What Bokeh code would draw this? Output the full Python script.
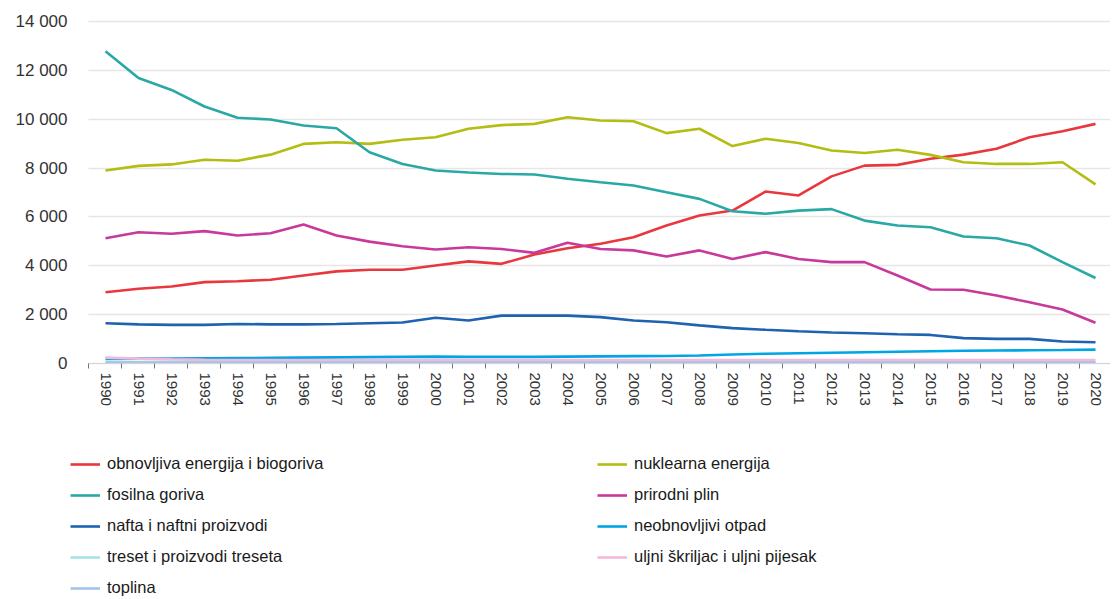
from bokeh.plotting import figure
from bokeh.models import FixedTicker, Legend, LegendItem, Range1d, BoxAnnotation
from bokeh.embed import file_html
from bokeh.resources import INLINE

years = list(range(1990, 2021))
year_labels = [str(y) for y in years]

y_ticks = [0, 2000, 4000, 6000, 8000, 10000, 12000, 14000]
y_tick_labels = ["0", "2 000", "4 000", "6 000", "8 000", "10 000", "12 000", "14 000"]

renewables = [2920, 3060, 3150, 3330, 3370, 3430, 3600, 3770, 3840, 3840,
              4010, 4180, 4080, 4460, 4720, 4900, 5170, 5650, 6060, 6260,
              7040, 6880, 7660, 8100, 8130, 8380, 8550, 8790, 9260, 9510, 9810]
nuclear = [7900, 8090, 8150, 8340, 8300, 8550, 8990, 9060, 8990, 9160,
           9260, 9610, 9760, 9810, 10080, 9950, 9920, 9430, 9610, 8900,
           9200, 9030, 8720, 8620, 8750, 8540, 8240, 8170, 8170, 8240, 7330]
fossil = [12780, 11690, 11200, 10520, 10060, 9990, 9740, 9630, 8650, 8170,
          7900, 7820, 7760, 7740, 7560, 7420, 7290, 7010, 6740, 6230,
          6130, 6260, 6320, 5850, 5650, 5580, 5200, 5130, 4830, 4150, 3500]
natural_gas = [5130, 5370, 5310, 5420, 5240, 5330, 5690, 5240, 4990, 4800,
               4670, 4760, 4690, 4530, 4940, 4690, 4630, 4380, 4630, 4280,
               4560, 4280, 4150, 4150, 3600, 3030, 3020, 2780, 2510, 2210, 1670]
oil = [1650, 1600, 1580, 1580, 1620, 1600, 1600, 1620, 1650, 1680,
       1870, 1760, 1960, 1960, 1960, 1900, 1760, 1690, 1560, 1450,
       1380, 1320, 1270, 1240, 1200, 1170, 1040, 1010, 1010, 900, 870]
waste = [190, 200, 200, 210, 220, 230, 240, 250, 260, 270,
         280, 270, 270, 270, 280, 290, 300, 310, 330, 370,
         400, 420, 440, 460, 480, 500, 520, 530, 540, 550, 570]
peat = [60, 60, 60, 60, 60, 60, 60, 60, 60, 60,
        60, 60, 60, 60, 60, 60, 60, 60, 60, 60,
        60, 60, 60, 60, 60, 60, 60, 60, 60, 60, 60]
oil_shale = [240, 200, 170, 150, 140, 140, 140, 140, 140, 140,
             140, 140, 140, 140, 140, 140, 140, 140, 140, 140,
             140, 140, 140, 140, 140, 140, 140, 140, 140, 140, 140]
heat = [35, 35, 35, 35, 35, 35, 35, 35, 35, 35,
        35, 35, 35, 35, 35, 35, 35, 35, 35, 35,
        35, 35, 35, 35, 35, 35, 35, 35, 35, 35, 35]

series_names = ["obnovljiva energija i biogoriva", "nuklearna energija",
                "fosilna goriva", "prirodni plin",
                "nafta i naftni proizvodi", "neobnovljivi otpad",
                "treset i proizvodi treseta", "uljni škriljac i uljni pijesak",
                "toplina"]
series_values = [renewables, nuclear, fossil, natural_gas, oil, waste,
                 peat, oil_shale, heat]
series_colors = ["#E8383D", "#B3BD12", "#2AA8A6", "#C8399B", "#1F62B0",
                 "#00A5E3", "#A6E3E3", "#F4B8D8", "#A3C4EC"]

# plot area: x axis sits at y = 0, y axis at the left edge of the year band;
# the frame covers the whole figure so the legend below the axis stays visible
x_left, x_right = 1989.4848, 2020.4545
p = figure(width=1110, height=597, output_backend="svg", toolbar_location=None,
           x_range=Range1d(1986.8182, x_right), y_range=Range1d(-9579, 14860),
           min_border_left=0, min_border_right=0, min_border_top=0,
           min_border_bottom=0)
p.outline_line_color = None
p.background_fill_color = "white"
p.border_fill_color = "white"

# x axis
p.xaxis.fixed_location = 0
p.xaxis.bounds = (x_left, x_right)
p.xaxis.ticker = FixedTicker(ticks=years,
                             minor_ticks=[y + 0.5 for y in range(1989, 2021)])
p.xaxis.major_label_overrides = dict(zip(years, year_labels))
p.xaxis.major_label_orientation = "vertical"
p.xaxis.major_tick_out = 0
p.xaxis.major_tick_in = 0
p.xaxis.minor_tick_out = 5
p.xaxis.minor_tick_in = 0
p.xaxis.minor_tick_line_color = "#777777"
p.xaxis.axis_line_color = "#D5D5D5"
p.xaxis.major_label_standoff = 4
p.xaxis.major_label_text_font = "Liberation Sans"
p.xaxis.major_label_text_font_size = "15px"
p.xaxis.major_label_text_color = "#333333"

# y axis
p.yaxis.fixed_location = x_left
p.yaxis.bounds = (0, 14000)
p.yaxis.ticker = FixedTicker(ticks=y_ticks)
p.yaxis.major_label_overrides = dict(zip(y_ticks, y_tick_labels))
p.yaxis.axis_line_color = None
p.yaxis.major_tick_line_color = None
p.yaxis.minor_tick_line_color = None
p.yaxis.major_tick_out = 0
p.yaxis.major_label_standoff = 21
p.yaxis.major_label_text_font = "Liberation Sans"
p.yaxis.major_label_text_font_size = "17px"
p.yaxis.major_label_text_color = "#333333"

p.xgrid.visible = False
p.ygrid.grid_line_color = "#E6E6E6"
p.ygrid.grid_line_width = 1.5

# keep the gridlines from running under the y-axis labels
p.add_layout(BoxAnnotation(right=x_left, fill_color="white", fill_alpha=1,
                           line_color=None, level="underlay"))

items = []
for name, vals, col in zip(series_names, series_values, series_colors):
    r = p.line(years, vals, line_color=col, line_width=2.6)
    items.append(LegendItem(label=name, renderers=[r]))

legend = Legend(items=items, orientation="horizontal", ncols=2,
                location=(70, 0), padding=0, margin=0, spacing=12,
                glyph_width=30, glyph_height=16, label_height=16,
                label_width=478, label_standoff=7,
                label_text_font="Liberation Sans", label_text_font_size="16.5px",
                label_text_color="#1A1A1A", border_line_color=None,
                background_fill_alpha=0)
p.add_layout(legend)

open("out.html", "w").write(file_html(p, INLINE))
